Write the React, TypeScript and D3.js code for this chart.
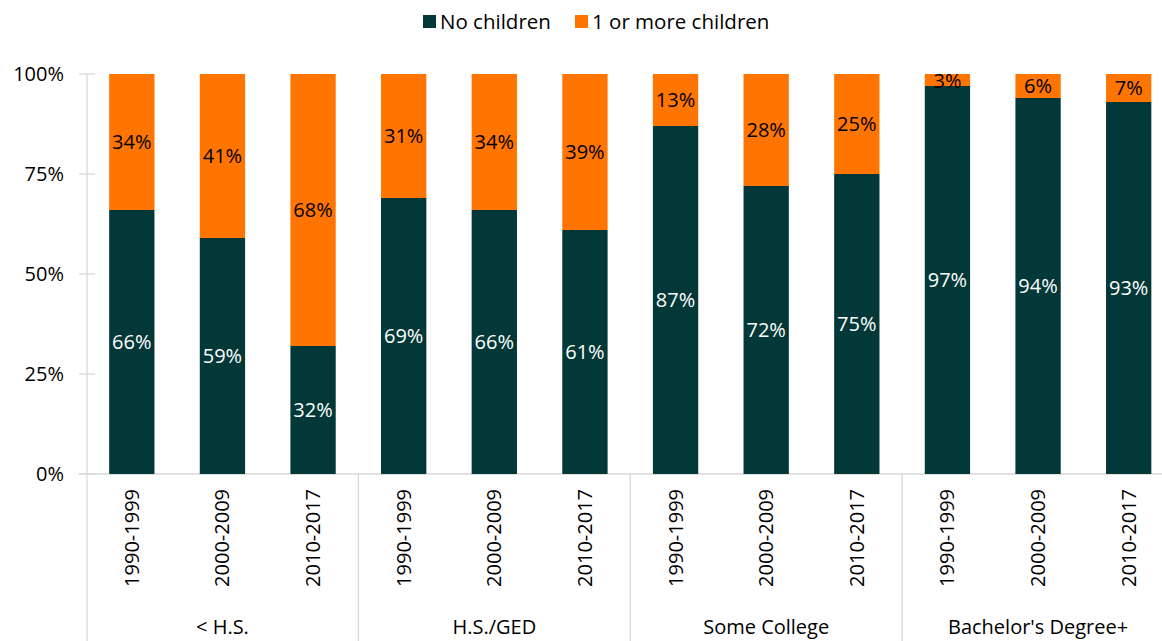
import { useEffect, useRef } from 'react'
import * as d3 from 'd3'

const GROUPS = ['< H.S.', 'H.S./GED', 'Some College', "Bachelor's Degree+"]
const PERIODS = ['1990-1999', '2000-2009', '2010-2017']
const NO_CHILDREN = [66, 59, 32, 69, 66, 61, 87, 72, 75, 97, 94, 93]
const WITH_CHILDREN = [34, 41, 68, 31, 34, 39, 13, 28, 25, 3, 6, 7]
const SERIES = ['No children', '1 or more children']
const COLORS = ['#023837', '#FF7500']
const Y_TICKS = [0, 25, 50, 75, 100]

const WIDTH = 1162
const HEIGHT = 641
const FONT = 'Open Sans, sans-serif'
const FS = 20
const GRID = '#D9D9D9'

export default function App() {
  const svgRef = useRef<SVGSVGElement>(null)

  useEffect(() => {
    const svg = d3.select(svgRef.current)
    svg.selectAll('*').remove()

    const cats = GROUPS.flatMap((g, gi) => PERIODS.map((p, pi) => `${gi}|${p}|${pi}`))
    const x = d3.scaleBand(cats, [86.5, 1174]).paddingInner(0.5).paddingOuter(0.25)
    const y = d3.scaleLinear([0, 100], [474, 74])
    const step = x.step()

    // ── Legend ──────────────────────────────────────────────
    const legendX = [423, 575]
    SERIES.forEach((s, i) => {
      svg.append('rect').attr('x', legendX[i]).attr('y', 15).attr('width', 13).attr('height', 13)
        .attr('fill', COLORS[i])
      svg.append('text').attr('x', legendX[i] + 17).attr('y', 28.5)
        .attr('font-family', FONT).attr('font-size', FS + 0.5).attr('fill', '#000')
        .text(s)
    })

    // ── Y axis ──────────────────────────────────────────────
    svg.append('line').attr('x1', 87).attr('x2', 87).attr('y1', y(100)).attr('y2', HEIGHT)
      .attr('stroke', GRID).attr('stroke-width', 1.3)
    Y_TICKS.forEach(t => {
      svg.append('line').attr('x1', 79).attr('x2', 95).attr('y1', y(t)).attr('y2', y(t))
        .attr('stroke', GRID).attr('stroke-width', 1.3)
      svg.append('text').attr('x', 64).attr('y', y(t) + 7)
        .attr('text-anchor', 'end').attr('font-family', FONT).attr('font-size', FS)
        .text(`${t}%`)
    })
    svg.append('line').attr('x1', 79).attr('x2', WIDTH).attr('y1', y(0)).attr('y2', y(0))
      .attr('stroke', GRID).attr('stroke-width', 1.3)

    // group separators
    GROUPS.forEach((_, gi) => {
      if (gi === 0) return
      const sx = 86.5 + gi * 3 * step
      svg.append('line').attr('x1', sx).attr('x2', sx).attr('y1', y(0)).attr('y2', HEIGHT)
        .attr('stroke', GRID).attr('stroke-width', 1.3)
    })

    // ── Bars ────────────────────────────────────────────────
    cats.forEach((c, i) => {
      const bx = x(c)!
      const bw = x.bandwidth()
      const a = NO_CHILDREN[i]
      const b = WITH_CHILDREN[i]
      svg.append('rect').attr('x', bx).attr('y', y(a)).attr('width', bw).attr('height', y(0) - y(a))
        .attr('fill', COLORS[0])
      svg.append('rect').attr('x', bx).attr('y', y(100)).attr('width', bw).attr('height', y(a) - y(100))
        .attr('fill', COLORS[1])
      const cx = bx + bw / 2
      svg.append('text').attr('x', cx).attr('y', (y(0) + y(a)) / 2 + 7)
        .attr('text-anchor', 'middle').attr('font-family', FONT).attr('font-size', FS)
        .attr('fill', '#fff').text(`${a}%`)
      svg.append('text').attr('x', cx).attr('y', Math.max((y(100) + y(a)) / 2 + 7, 88))
        .attr('text-anchor', 'middle').attr('font-family', FONT).attr('font-size', FS)
        .attr('fill', '#000').text(`${b}%`)

      // rotated period label
      const period = c.split('|')[1]
      svg.append('text')
        .attr('transform', `translate(${cx + 7},489) rotate(-90)`)
        .attr('text-anchor', 'end').attr('font-family', FONT).attr('font-size', FS)
        .text(period)
    })

    // group labels
    GROUPS.forEach((g, gi) => {
      const gx = 86.5 + (gi + 0.5) * 3 * step
      svg.append('text').attr('x', gx).attr('y', 634)
        .attr('text-anchor', 'middle').attr('font-family', FONT).attr('font-size', FS)
        .text(g)
    })
  }, [])

  return (
    <svg ref={svgRef} width={WIDTH} height={HEIGHT}
      style={{ position: 'absolute', left: 0, top: 0, background: '#fff' }} />
  )
}
